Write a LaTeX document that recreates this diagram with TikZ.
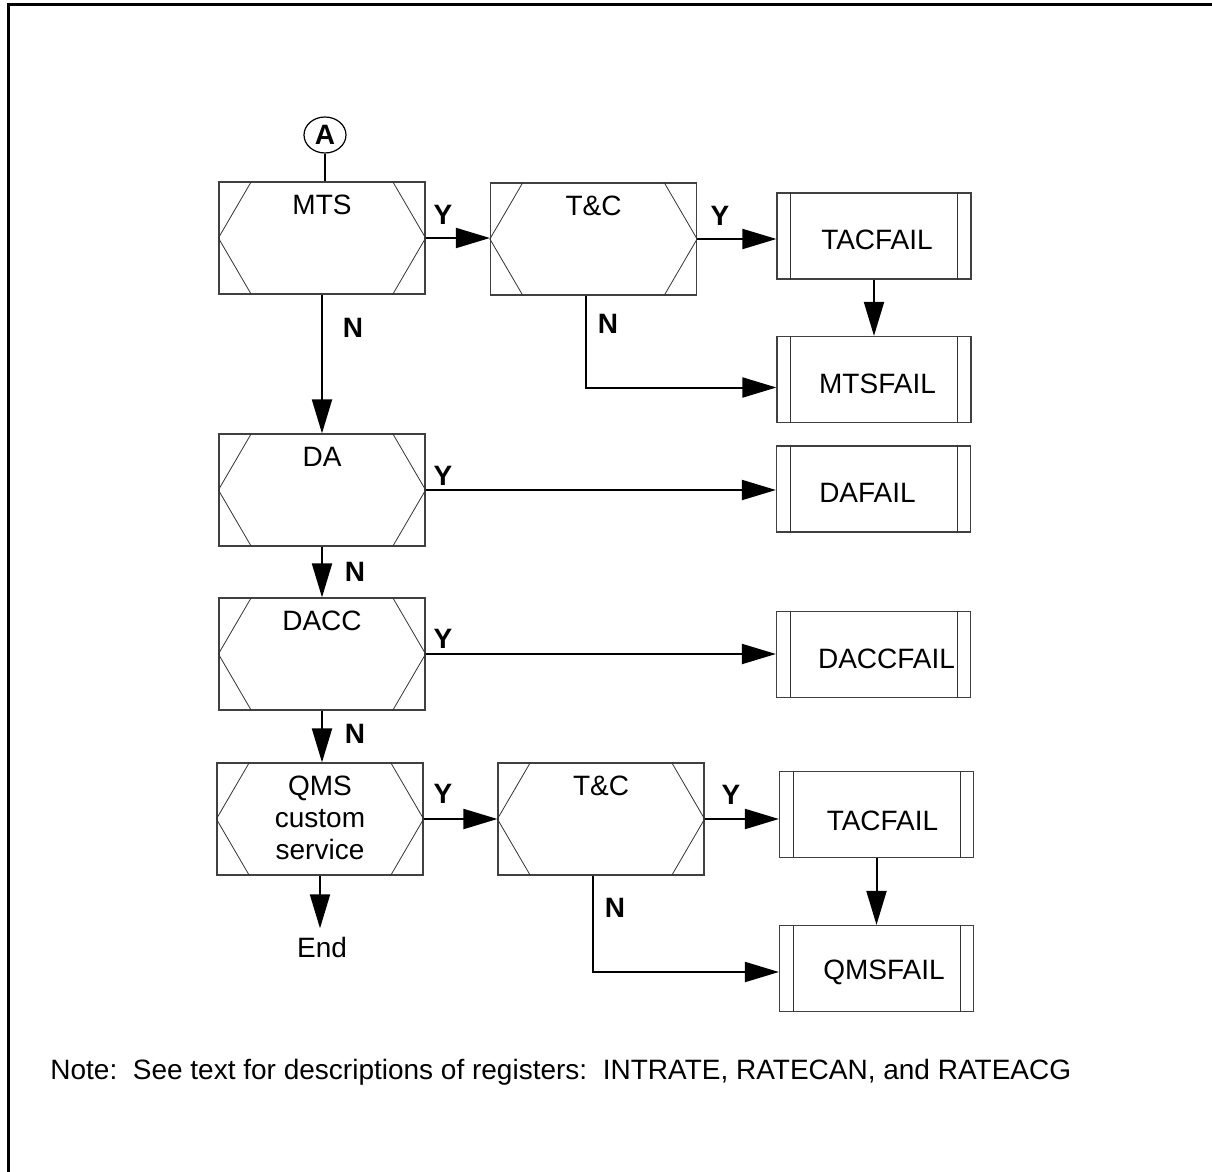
\documentclass[tikz,border=0pt]{standalone}
\usepackage{fontspec}
\setmainfont{Liberation Sans}
\usetikzlibrary{arrows.meta,shapes.geometric}
\begin{document}
\begin{tikzpicture}[x=0.5pt,y=-0.5pt,
  font=\fontsize{14}{16}\selectfont,
  decbox/.style={draw=black!75,line width=0.6pt,minimum width=103pt,minimum height=56pt,inner sep=0pt},
  procbox/.style={draw=black!75,line width=0.6pt,minimum width=97pt,minimum height=43pt,inner sep=0pt},
  conn/.style={line width=1pt,-{Triangle[length=17pt,width=10pt]}},
  yn/.style={font=\fontsize{14}{16}\selectfont\bfseries,inner sep=0pt},
  toptext/.style={anchor=north,inner sep=0pt,yshift=-6.5pt,align=center},
  inlines/.style={line width=0.4pt,draw=black!80}
]
\useasboundingbox (0,0) rectangle (1212,1172);
% frame (top and left edges)
\draw[line width=1.5pt] (1212,5) -- (8,5) -- (8,1172);

% connector start
\node[draw,ellipse,line width=0.6pt,minimum width=21pt,minimum height=18pt,inner sep=0pt,font=\fontsize{14}{16}\selectfont\bfseries] (A) at (325,135) {A};

% decision boxes
\node[decbox,label={[toptext]north:MTS}] (MTS) at (322,238) {};
\node[decbox,label={[toptext]north:T\&C}] (TC1) at (593.5,239) {};
\node[decbox,label={[toptext]north:DA}] (DA) at (322,490) {};
\node[decbox,label={[toptext]north:DACC}] (DACC) at (322,654) {};
\node[decbox,label={[toptext]north:QMS\\custom\\service}] (QMS) at (320,819) {};
\node[decbox,label={[toptext]north:T\&C}] (TC2) at (601,819) {};

% process boxes
\node[procbox,label={[xshift=1.5pt,yshift=-2pt]center:TACFAIL}] (TF1) at (874,236) {};
\node[procbox,label={[xshift=1.75pt,yshift=-2pt]center:MTSFAIL}] (MF1) at (874,379.5) {};
\node[procbox,label={[xshift=-3pt,yshift=-2pt]center:DAFAIL}] (DAF) at (873.5,489) {};
\node[procbox,label={[xshift=6.5pt,yshift=-2pt]center:DACCFAIL}] (DACCF) at (873.5,654.5) {};
\node[procbox,label={[xshift=3pt,yshift=-3pt]center:TACFAIL}] (TF2) at (876.5,814.5) {};
\node[procbox,label={[xshift=3.75pt,yshift=-2pt]center:QMSFAIL}] (QF) at (876.5,968.5) {};

\node[inner sep=0pt] (End) at (322,947) {End};

% hexagon insets
\foreach \n in {MTS,TC1,DA,DACC,QMS,TC2}{
  \draw[inlines] ([xshift=16.5pt]\n.north west) -- (\n.west) -- ([xshift=16.5pt]\n.south west)
                 ([xshift=-16.5pt]\n.north east) -- (\n.east) -- ([xshift=-16.5pt]\n.south east);
}
% process side bars
\foreach \n in {TF1,MF1,DAF,DACCF,TF2,QF}{
  \draw[inlines] ([xshift=7pt]\n.north west) -- ([xshift=7pt]\n.south west)
                 ([xshift=-7pt]\n.north east) -- ([xshift=-7pt]\n.south east);
}

% connectors
\draw[line width=1pt] (A) -- (A |- MTS.north);
\draw[conn] (MTS.east) -- (MTS.east -| TC1.west);
\draw[conn] (TC1.east) -- (TC1.east -| TF1.west);
\draw[conn] (TF1.south) -- (MF1.north);
\draw[conn] ([xshift=-3.75pt]TC1.south) |- ([yshift=-4pt]MF1.west);
\draw[conn] (MTS.south) -- (DA.north);
\draw[conn] (DA.east) -- (DA.east -| DAF.west);
\draw[conn] (DA.south) -- (DACC.north);
\draw[conn] (DACC.east) -- (DACC.east -| DACCF.west);
\draw[conn] (DACC.south) -- (DACC.south |- QMS.north);
\draw[conn] (QMS.east) -- (TC2.west);
\draw[conn] (TC2.east) -- (TC2.east -| TF2.west);
\draw[conn] (TF2.south) -- (QF.north);
\draw[conn] ([xshift=-4pt]TC2.south) |- ([yshift=-1.75pt]QF.west);
\draw[conn,shorten >=4pt] (QMS.south) -- (QMS.south |- End.north);

% Y / N labels
\node[yn] (y1) at (443,215) {Y};
\node[yn] (y2) at (720,216) {Y};
\node[yn] (n1) at (608,324) {N};
\node[yn] (n0) at (353,328) {N};
\node[yn] (y3) at (443,476) {Y};
\node[yn] (n2) at (355,572) {N};
\node[yn] (y4) at (443,639) {Y};
\node[yn] (n3) at (355,734) {N};
\node[yn] (y5) at (443,794) {Y};
\node[yn] (y6) at (731,795) {Y};
\node[yn] (n4) at (615,908) {N};

% note
\node[anchor=west,inner sep=0pt] (note) at (50,1072) {Note:\ \ See text for descriptions of registers:\ \ INTRATE, RATECAN, and RATEACG};
\end{tikzpicture}
\end{document}
